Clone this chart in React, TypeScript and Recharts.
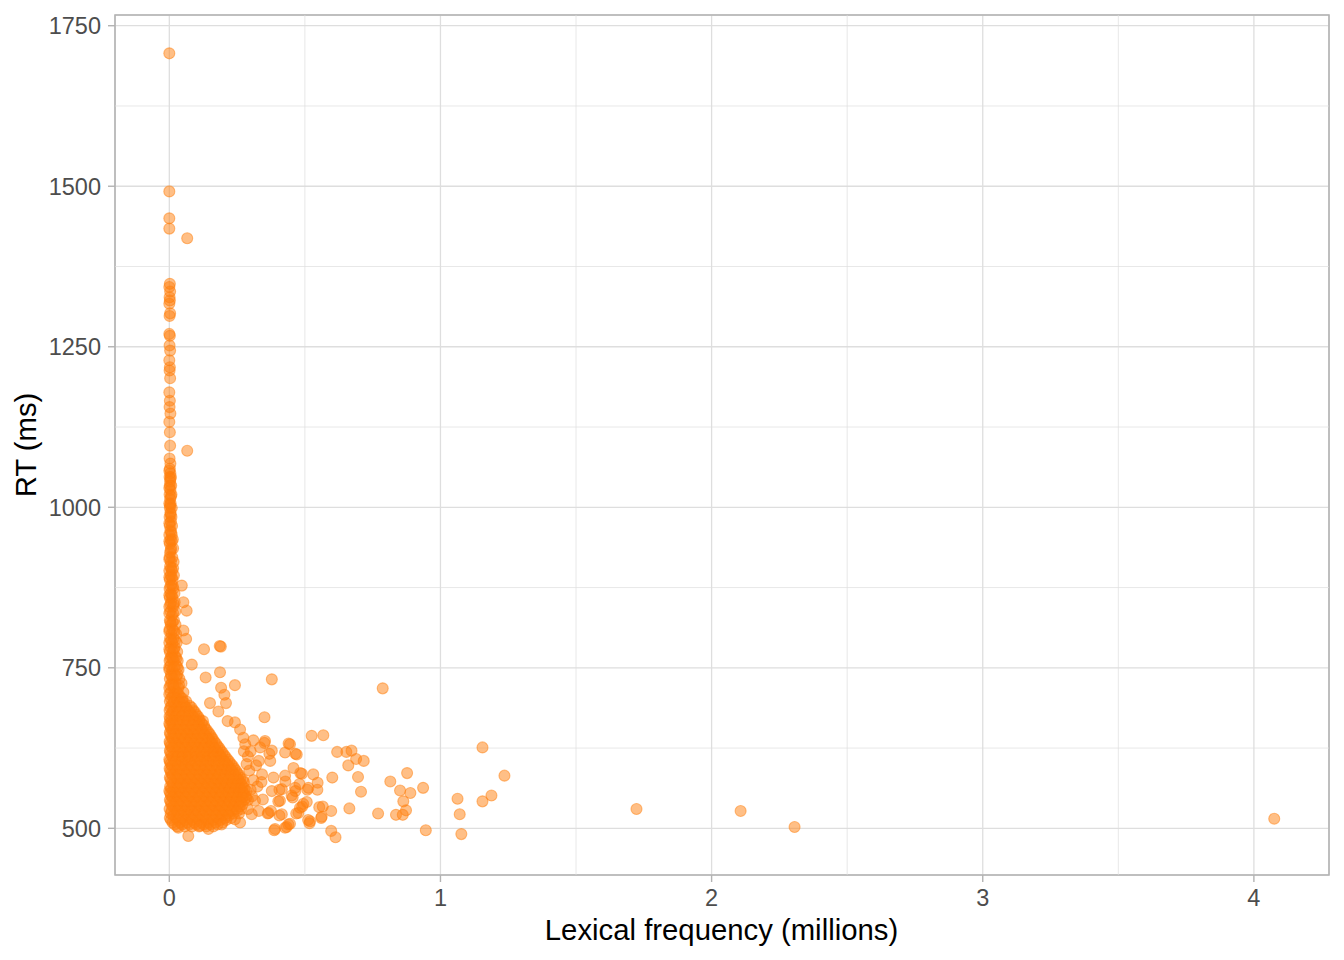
import React from "react";
import { ScatterChart, Scatter, XAxis, YAxis, CartesianGrid, ReferenceLine, ReferenceArea } from "recharts";

// Sparse high-RT points along the left edge and top outliers: [frequency (millions), RT (ms)]
const upperPoints: [number, number][] = [
  [0.0, 1707], [0.0, 1492], [0.0, 1450], [0.0, 1434], [0.066, 1419],
  [0.002, 1348], [0.0, 1343], [0.003, 1336], [0.001, 1327], [0.002, 1322], [0.0, 1317],
  [0.003, 1302], [0.001, 1298], [0.0, 1270], [0.002, 1267], [0.001, 1252], [0.003, 1244],
  [0.0, 1229], [0.002, 1218], [0.001, 1213], [0.003, 1201], [0.0, 1179], [0.002, 1166],
  [0.001, 1156], [0.004, 1146], [0.0, 1133], [0.002, 1117], [0.003, 1096], [0.066, 1088],
  [0.001, 1076], [0.004, 1068],
];

// Dense core: each row is an RT value with the frequencies observed at it
const coreRows: [number, number[]][] = [
  [1060, [0.002]], [1053, [0.004]], [1047, [0.001, 0.006]], [1040, [0.003]],
  [1034, [0.002, 0.007]], [1027, [0.004]], [1020, [0.001, 0.008]], [1013, [0.003]],
  [1006, [0.005, 0.0]], [999, [0.002, 0.009]], [992, [0.004]], [985, [0.001, 0.008]],
  [978, [0.006]], [971, [0.002, 0.01]], [964, [0.004]], [957, [0.0, 0.009]],
  [950, [0.005, 0.013]], [943, [0.002]], [936, [0.007, 0.014]], [929, [0.003]],
  [922, [0.001, 0.011]], [915, [0.006, 0.016]], [908, [0.003]], [901, [0.0, 0.01]],
  [894, [0.005, 0.017]], [887, [0.002, 0.012]], [880, [0.008]], [873, [0.001, 0.015]],
  [866, [0.005, 0.019]], [859, [0.002, 0.011]], [852, [0.007, 0.02]], [845, [0.0, 0.014]],
  [838, [0.004, 0.022]], [831, [0.01]], [824, [0.002, 0.017]], [817, [0.006, 0.023]],
  [810, [0.001, 0.012]], [803, [0.008, 0.025]], [796, [0.003, 0.016]], [789, [0.0, 0.011, 0.027]],
  [782, [0.006, 0.02]], [775, [0.002, 0.013, 0.029]], [768, [0.008, 0.022]],
  [761, [0.001, 0.016, 0.031]], [754, [0.005, 0.025]], [747, [0.0, 0.011, 0.034]],
  [740, [0.006, 0.019, 0.03]], [733, [0.002, 0.014, 0.037]], [726, [0.009, 0.024, 0.045]],
  [719, [0.0, 0.017, 0.033]], [712, [0.005, 0.028, 0.052]], [705, [0.012, 0.021, 0.04]],
  [698, [0.002, 0.03, 0.047, 0.062]], [691, [0.008, 0.022, 0.055, 0.075]],
  [684, [0.001, 0.016, 0.038, 0.068, 0.088]], [677, [0.007, 0.027, 0.05, 0.081, 0.1]],
  [670, [0.003, 0.019, 0.042, 0.064, 0.094, 0.112]],
  [663, [0.0, 0.012, 0.033, 0.057, 0.078, 0.104, 0.12]],
  [656, [0.006, 0.024, 0.047, 0.07, 0.09, 0.116, 0.132]],
  [649, [0.002, 0.016, 0.037, 0.06, 0.083, 0.101, 0.125, 0.145]],
  [642, [0.009, 0.028, 0.05, 0.072, 0.095, 0.113, 0.138, 0.156]],
  [635, [0.001, 0.019, 0.041, 0.064, 0.086, 0.107, 0.128, 0.15, 0.166]],
  [628, [0.006, 0.031, 0.054, 0.077, 0.098, 0.12, 0.142, 0.161, 0.178]],
  [621, [0.002, 0.022, 0.045, 0.068, 0.089, 0.111, 0.134, 0.155, 0.173, 0.19]],
  [614, [0.008, 0.035, 0.058, 0.08, 0.102, 0.125, 0.147, 0.167, 0.186, 0.202]],
  [607, [0.0, 0.017, 0.042, 0.066, 0.092, 0.116, 0.138, 0.159, 0.18, 0.198, 0.215]],
  [600, [0.005, 0.029, 0.053, 0.078, 0.101, 0.127, 0.15, 0.172, 0.193, 0.211, 0.228]],
  [593, [0.001, 0.02, 0.044, 0.069, 0.093, 0.118, 0.141, 0.164, 0.185, 0.205, 0.224, 0.24]],
  [586, [0.007, 0.033, 0.058, 0.082, 0.107, 0.131, 0.155, 0.178, 0.198, 0.219, 0.236, 0.252]],
  [579, [0.002, 0.024, 0.048, 0.072, 0.097, 0.122, 0.146, 0.17, 0.191, 0.212, 0.23, 0.247, 0.262]],
  [572, [0.009, 0.036, 0.061, 0.086, 0.111, 0.136, 0.16, 0.183, 0.205, 0.226, 0.244, 0.26, 0.275]],
  [565, [0.003, 0.026, 0.05, 0.076, 0.101, 0.126, 0.151, 0.175, 0.197, 0.218, 0.238, 0.256, 0.271]],
  [558, [0.0, 0.014, 0.039, 0.064, 0.09, 0.115, 0.14, 0.165, 0.188, 0.21, 0.231, 0.25, 0.268, 0.285]],
  [551, [0.006, 0.029, 0.054, 0.079, 0.105, 0.13, 0.155, 0.179, 0.202, 0.224, 0.245, 0.263, 0.279]],
  [544, [0.002, 0.019, 0.044, 0.069, 0.094, 0.12, 0.145, 0.17, 0.193, 0.216, 0.238, 0.258, 0.276, 0.29]],
  [537, [0.008, 0.033, 0.058, 0.084, 0.11, 0.135, 0.16, 0.185, 0.208, 0.231, 0.252, 0.27]],
  [530, [0.001, 0.022, 0.047, 0.073, 0.099, 0.125, 0.15, 0.175, 0.2, 0.223, 0.245, 0.265]],
  [523, [0.005, 0.036, 0.062, 0.088, 0.114, 0.14, 0.165, 0.19, 0.214, 0.236, 0.257]],
  [516, [0.002, 0.025, 0.051, 0.077, 0.103, 0.129, 0.155, 0.18, 0.205, 0.228]],
  [509, [0.012, 0.04, 0.066, 0.092, 0.118, 0.144, 0.17, 0.196]],
  [503, [0.03, 0.057, 0.083, 0.11, 0.136, 0.162]],
];

// Second layer of the dense core, between the rows above
const coreRowsB: [number, number[]][] = [
  [1057, [0.0]], [1044, [0.004]], [1030, [0.0]], [1017, [0.006]], [1003, [0.003]],
  [989, [0.005]], [975, [0.0]], [961, [0.007]], [947, [0.0, 0.009]], [933, [0.005]],
  [919, [0.0]], [905, [0.007, 0.014]], [891, [0.0, 0.009]], [877, [0.004, 0.013]],
  [863, [0.0, 0.009]], [849, [0.004, 0.016]], [835, [0.0, 0.014]], [821, [0.004, 0.012]],
  [807, [0.0, 0.018]], [793, [0.007, 0.021]], [779, [0.0, 0.017]], [765, [0.004, 0.012, 0.026]],
  [751, [0.0, 0.018, 0.03]], [737, [0.008, 0.026]], [723, [0.004, 0.015, 0.036]],
  [709, [0.0, 0.018, 0.034]], [702, [0.006, 0.028, 0.048]],
  [696, [0.015, 0.038, 0.054]],
  [688, [0.004, 0.029, 0.046, 0.062, 0.082]],
  [681, [0.012, 0.033, 0.058, 0.075, 0.094]],
  [674, [0.001, 0.024, 0.046, 0.071, 0.088, 0.106]],
  [667, [0.008, 0.028, 0.05, 0.068, 0.091, 0.11, 0.124]],
  [660, [0.003, 0.018, 0.04, 0.063, 0.085, 0.108, 0.128]],
  [653, [0.011, 0.031, 0.054, 0.077, 0.096, 0.12, 0.138]],
  [646, [0.004, 0.021, 0.043, 0.066, 0.089, 0.107, 0.131, 0.15]],
  [639, [0.012, 0.034, 0.057, 0.079, 0.1, 0.121, 0.144, 0.16]],
  [632, [0.003, 0.025, 0.048, 0.07, 0.092, 0.114, 0.136, 0.157, 0.172]],
  [625, [0.011, 0.036, 0.059, 0.083, 0.104, 0.127, 0.148, 0.167, 0.184]],
  [618, [0.004, 0.028, 0.051, 0.074, 0.096, 0.118, 0.14, 0.161, 0.18, 0.196]],
  [611, [0.012, 0.03, 0.047, 0.072, 0.097, 0.121, 0.143, 0.164, 0.19, 0.208]],
  [604, [0.002, 0.023, 0.047, 0.071, 0.095, 0.114, 0.139, 0.162, 0.183, 0.204, 0.221]],
  [597, [0.01, 0.034, 0.058, 0.083, 0.108, 0.132, 0.156, 0.178, 0.2, 0.218, 0.234]],
  [590, [0.004, 0.026, 0.05, 0.075, 0.1, 0.124, 0.148, 0.171, 0.192, 0.212, 0.23, 0.246]],
  [583, [0.012, 0.038, 0.063, 0.088, 0.113, 0.138, 0.161, 0.184, 0.205, 0.225, 0.242, 0.257]],
  [576, [0.005, 0.03, 0.054, 0.079, 0.104, 0.129, 0.152, 0.176, 0.198, 0.219, 0.238, 0.254, 0.27]],
  [569, [0.014, 0.042, 0.068, 0.093, 0.118, 0.143, 0.167, 0.19, 0.211, 0.232, 0.25, 0.266]],
  [562, [0.007, 0.032, 0.057, 0.083, 0.108, 0.133, 0.158, 0.181, 0.204, 0.225, 0.244, 0.262, 0.278]],
  [555, [0.003, 0.021, 0.046, 0.072, 0.097, 0.122, 0.148, 0.172, 0.195, 0.217, 0.238, 0.257, 0.274]],
  [548, [0.012, 0.036, 0.061, 0.087, 0.112, 0.137, 0.162, 0.186, 0.209, 0.231, 0.251, 0.27, 0.284]],
  [541, [0.005, 0.026, 0.051, 0.077, 0.102, 0.128, 0.153, 0.177, 0.2, 0.223, 0.245, 0.264]],
  [534, [0.014, 0.04, 0.066, 0.092, 0.117, 0.142, 0.168, 0.192, 0.215, 0.238, 0.258]],
  [527, [0.008, 0.03, 0.055, 0.081, 0.107, 0.132, 0.158, 0.183, 0.207, 0.23, 0.25]],
  [520, [0.015, 0.044, 0.07, 0.096, 0.122, 0.148, 0.172, 0.197, 0.22]],
  [513, [0.006, 0.032, 0.058, 0.084, 0.11, 0.136, 0.162, 0.188, 0.21]],
  [506, [0.02, 0.048, 0.074, 0.1, 0.127, 0.152, 0.178]],
];

// Scattered points around and beyond the core
const scatteredPoints: [number, number][] = [
  [0.046, 878], [0.052, 852], [0.064, 839], [0.052, 808], [0.062, 795], [0.128, 779],
  [0.186, 784], [0.19, 783], [0.083, 755], [0.134, 735], [0.187, 743], [0.242, 723],
  [0.378, 732], [0.191, 719], [0.203, 708], [0.209, 695], [0.15, 695], [0.181, 682],
  [0.351, 673], [0.215, 667], [0.242, 665], [0.261, 654], [0.273, 641], [0.31, 637],
  [0.353, 636], [0.445, 631], [0.525, 644], [0.47, 615], [0.427, 618], [0.378, 621],
  [0.335, 626], [0.28, 631], [0.372, 605], [0.33, 605], [0.458, 594], [0.489, 585],
  [0.427, 582], [0.384, 579], [0.342, 584], [0.513, 563], [0.464, 563], [0.415, 561],
  [0.378, 558], [0.451, 551], [0.494, 538], [0.408, 543], [0.366, 524], [0.415, 522],
  [0.476, 524], [0.519, 511], [0.439, 506], [0.39, 499], [0.427, 501], [0.33, 527],
  [0.316, 543], [0.304, 522], [0.261, 509], [0.193, 506], [0.113, 504], [0.07, 488],
  [0.033, 501], [0.144, 499], [0.242, 514], [0.387, 497], [0.433, 502], [0.445, 507],
  [0.787, 718], [0.568, 645], [1.155, 626], [0.619, 619], [0.653, 619], [0.672, 621],
  [0.689, 608], [0.717, 605], [0.66, 598], [0.44, 632], [0.465, 616], [0.351, 633],
  [0.369, 616], [0.601, 579], [0.696, 580], [0.707, 557], [0.815, 573], [0.877, 586],
  [0.851, 559], [0.889, 555], [0.863, 542], [0.936, 563], [0.873, 528], [0.836, 521],
  [0.861, 521], [0.77, 523], [0.664, 531], [0.597, 527], [0.56, 516], [0.517, 508],
  [0.597, 496], [0.613, 486], [0.946, 497], [1.063, 546], [1.071, 522], [1.077, 491],
  [1.155, 542], [1.188, 551], [1.236, 582], [0.483, 586], [0.531, 584], [0.547, 571],
  [0.546, 560], [0.509, 560], [0.48, 569], [0.455, 548], [0.465, 558], [0.49, 534],
  [0.507, 541], [0.468, 523], [0.406, 520], [0.402, 542], [0.406, 560], [0.428, 573],
  [0.566, 534], [0.375, 527], [0.363, 523], [0.512, 513], [0.553, 533], [0.482, 532],
  [0.562, 518],
  [0.295, 590], [0.31, 575], [0.3, 560], [0.32, 598], [0.29, 612], [0.305, 550],
  [0.325, 565], [0.345, 545], [0.34, 572], [0.3, 620], [0.285, 600], [0.275, 620], [0.29, 530],
  [1.723, 530], [2.107, 527], [2.306, 502], [4.075, 515],
];

const xTicks = [0, 1, 2, 3, 4];
const yTicks = [500, 750, 1000, 1250, 1500, 1750];
const xMinor = [0.5, 1.5, 2.5, 3.5];
const yMinor = [625, 875, 1125, 1375, 1625];
const xDomain: [number, number] = [-0.2003, 4.277];
const yDomain: [number, number] = [427.3, 1766.7];

const points = [
  ...upperPoints.map(([x, y]) => ({ x, y })),
  ...coreRows.flatMap(([y, xs]) => xs.map((x) => ({ x, y }))),
  ...coreRowsB.flatMap(([y, xs]) => xs.map((x) => ({ x, y }))),
  ...scatteredPoints.map(([x, y]) => ({ x, y })),
];

const ORANGE = "#FF7F0E";
const FONT = "'Liberation Sans', Arial, Helvetica, sans-serif";
const GRID = "#DEDEDE";
const BORDER = "#B3B3B3";

const Dot = (p: any) => (
  <circle
    cx={p.cx}
    cy={p.cy}
    r={5.5}
    fill={ORANGE}
    fillOpacity={0.5}
    stroke={ORANGE}
    strokeOpacity={0.5}
    strokeWidth={1.1}
  />
);

export default function App() {
  return (
    <div style={{ position: "absolute", left: 0, top: 0, width: 1344, height: 960, background: "#fff" }}>
      <ScatterChart
        width={1344}
        height={960}
        margin={{ top: 15, right: 15, bottom: 0, left: 0 }}
        style={{ fontFamily: FONT }}
      >
        <CartesianGrid stroke={GRID} strokeWidth={1.3} />
        {xMinor.map((v) => (
          <ReferenceLine key={"xm" + v} x={v} stroke={GRID} strokeWidth={0.7} />
        ))}
        {yMinor.map((v) => (
          <ReferenceLine key={"ym" + v} y={v} stroke={GRID} strokeWidth={0.7} />
        ))}
        <XAxis
          type="number"
          dataKey="x"
          domain={xDomain}
          ticks={xTicks}
          interval={0}
          allowDataOverflow
          height={85}
          axisLine={false}
          tickLine={{ stroke: BORDER, strokeWidth: 1.4 }}
          tickSize={7}
          tickMargin={7}
          tick={{ fontSize: 23.5, fill: "#4D4D4D", fontFamily: FONT }}
          label={{
            content: () => (
              <text x={721.5} y={940} textAnchor="middle" fontSize={29.3} fill="#000" fontFamily={FONT}>
                Lexical frequency (millions)
              </text>
            ),
          }}
        />
        <YAxis
          type="number"
          dataKey="y"
          domain={yDomain}
          ticks={yTicks}
          interval={0}
          allowDataOverflow
          width={115}
          axisLine={false}
          tickLine={{ stroke: BORDER, strokeWidth: 1.4 }}
          tickSize={7}
          tickMargin={7}
          tick={{ fontSize: 23.5, fill: "#4D4D4D", fontFamily: FONT }}
          label={{
            content: () => (
              <text
                x={36}
                y={445}
                textAnchor="middle"
                fontSize={29.3}
                fill="#000"
                fontFamily={FONT}
                transform="rotate(-90 36 445)"
              >
                RT (ms)
              </text>
            ),
          }}
        />
        <Scatter data={points} isAnimationActive={false} shape={Dot} />
        <ReferenceArea
          x1={xDomain[0]}
          x2={xDomain[1]}
          y1={yDomain[0]}
          y2={yDomain[1]}
          fill="none"
          fillOpacity={0}
          stroke={BORDER}
          strokeWidth={1.6}
          ifOverflow="visible"
        />
      </ScatterChart>
    </div>
  );
}
